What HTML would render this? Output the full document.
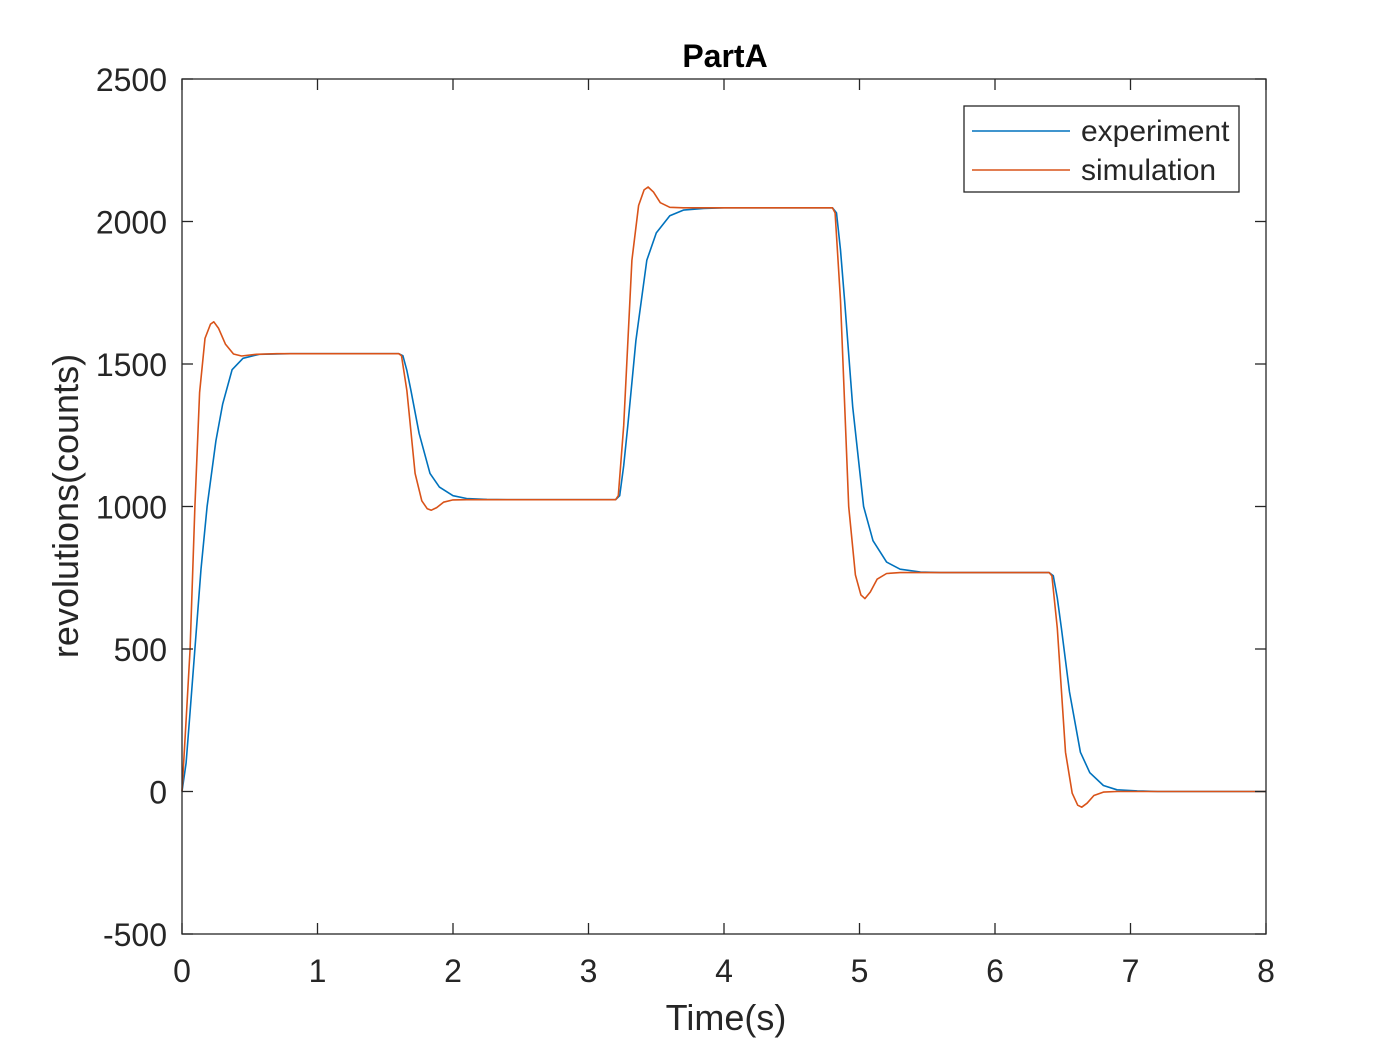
<!DOCTYPE html>
<html><head><meta charset="utf-8"><style>body{margin:0;background:#fff}svg{display:block}text{font-family:"Liberation Sans",Arial,sans-serif;fill:#262626}</style></head>
<body>
<svg id="chart" width="1400" height="1050" xmlns="http://www.w3.org/2000/svg">
<rect x="0" y="0" width="1400" height="1050" fill="#fff"/>
<g id="plot"></g>
</svg>
<script>
const xTicks=[0,1,2,3,4,5,6,7,8];
const yTicks=[-500,0,500,1000,1500,2000,2500];
const expT=[0,0.03,0.06,0.095,0.14,0.185,0.25,0.3,0.37,0.45,0.57,0.8,1.6,1.63,1.66,1.69,1.75,1.83,1.9,2.0,2.1,2.25,2.4,3.2,3.23,3.26,3.29,3.35,3.43,3.5,3.6,3.7,3.85,4.0,4.8,4.83,4.86,4.89,4.95,5.03,5.1,5.2,5.3,5.45,5.6,6.4,6.43,6.46,6.49,6.55,6.63,6.7,6.8,6.9,7.05,7.2,8];
const expV=[0,100,280,500,780,1000,1230,1360,1480,1520,1534,1536,1536,1529,1477,1406,1257,1116,1068,1038,1028,1025,1024,1024,1038,1143,1284,1582,1864,1960,2020,2040,2046,2048,2048,2030,1900,1723,1350,1000,880,805,780,770,768,768,757,679,573,349,138,66,21,6,2,0,0];
const simT=[0,0.03,0.06,0.095,0.13,0.17,0.21,0.235,0.27,0.32,0.38,0.44,0.55,0.7,1.6,1.62,1.66,1.72,1.77,1.81,1.84,1.88,1.93,2.0,2.1,3.2,3.22,3.26,3.32,3.37,3.41,3.44,3.48,3.53,3.6,3.7,4.8,4.82,4.86,4.92,4.97,5.01,5.04,5.08,5.13,5.2,5.3,6.4,6.42,6.46,6.52,6.57,6.61,6.64,6.68,6.73,6.8,6.9,8];
const simV=[0,250,500,1000,1400,1590,1640,1648,1625,1570,1535,1528,1534,1536,1536,1529,1406,1116,1020,992,987,996,1015,1023,1024,1024,1038,1284,1864,2056,2111,2121,2103,2066,2050,2048,2048,2030,1723,1000,760,690,677,700,745,765,768,768,757,573,138,-6,-48,-55,-41,-14,-2,0,0];
const L=182,R=1266,T=79,B=934;
const X=v=>L+(v-0)/(8-0)*(R-L);
const Y=v=>B-(v+500)/3000*(B-T);
const NS="http://www.w3.org/2000/svg";
const g=document.getElementById('plot');
function mk(tag,attrs,parent){const e=document.createElementNS(NS,tag);for(const k in attrs)e.setAttribute(k,attrs[k]);(parent||g).appendChild(e);return e;}
function path(ts,vs,color,name){
 let d='';ts.forEach((t,i)=>{d+=(i?'L':'M')+X(t).toFixed(1)+' '+Y(vs[i]).toFixed(1);});
 const p=mk('path',{d:d,fill:'none',stroke:color,'stroke-width':1.6,'stroke-linejoin':'round'});
 
 
}
path(expT,expV,'#0072BD','experiment-line');
path(simT,simV,'#D95319','simulation-line');
const box=mk('rect',{x:L,y:T,width:R-L,height:B-T,fill:'none',stroke:'#262626','stroke-width':1.3});


xTicks.forEach(v=>{
 const x=X(v);
 mk('line',{x1:x,y1:B,x2:x,y2:B-11,stroke:'#262626','stroke-width':1.3});
 mk('line',{x1:x,y1:T,x2:x,y2:T+11,stroke:'#262626','stroke-width':1.3});
 const t=mk('text',{x:x,y:B+48,'font-size':32,'text-anchor':'middle'});t.textContent=v;
 
 
});
yTicks.forEach(v=>{
 const y=Y(v);
 mk('line',{x1:L,y1:y,x2:L+11,y2:y,stroke:'#262626','stroke-width':1.3});
 mk('line',{x1:R,y1:y,x2:R-11,y2:y,stroke:'#262626','stroke-width':1.3});
 const t=mk('text',{x:L-15,y:y+12,'font-size':32,'text-anchor':'end'});t.textContent=v;
 
 
});
const ti=mk('text',{x:725,y:67,'font-size':32,'font-weight':'bold','text-anchor':'middle',style:'fill:#000'});ti.textContent='PartA';


const xl=mk('text',{x:726,y:1030,'font-size':36,'text-anchor':'middle'});xl.textContent='Time(s)';


const yl=mk('text',{x:0,y:0,'font-size':36,'text-anchor':'middle',transform:'translate(78,506) rotate(-90)'});yl.textContent='revolutions(counts)';


const lg=mk('g',{});


mk('rect',{x:964,y:106,width:275,height:86,fill:'#fff',stroke:'#262626','stroke-width':1.3},lg);
mk('line',{x1:972,y1:131,x2:1070,y2:131,stroke:'#0072BD','stroke-width':1.6},lg);
mk('line',{x1:972,y1:170,x2:1070,y2:170,stroke:'#D95319','stroke-width':1.6},lg);
const l1=mk('text',{x:1081,y:141,'font-size':30},lg);l1.textContent='experiment';


const l2=mk('text',{x:1081,y:180,'font-size':30},lg);l2.textContent='simulation';


</script>
</body></html>
